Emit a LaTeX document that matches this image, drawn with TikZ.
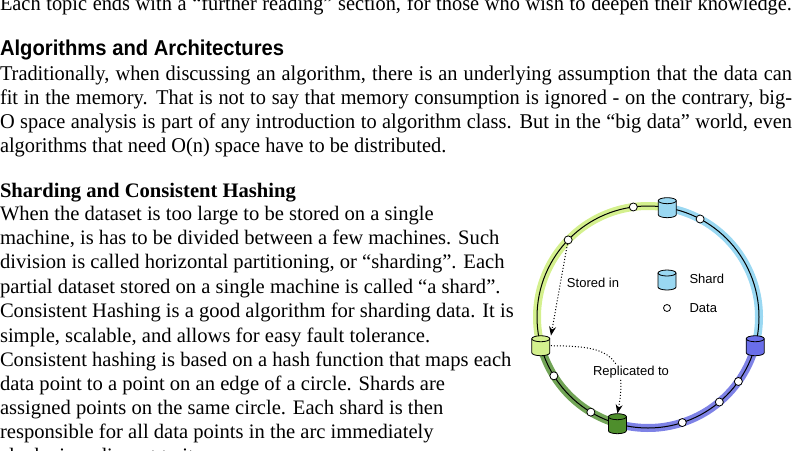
\documentclass[tikz,border=0pt]{standalone}
\usepackage{fontspec}
\setmainfont{Liberation Serif}
\newfontfamily\condf[FakeStretch=0.97]{Liberation Serif}
\newfontfamily\hsans[FakeStretch=0.94]{Liberation Sans}
\newfontfamily\lsans{Liberation Sans}
\usetikzlibrary{shapes.geometric,arrows.meta,calc}
\definecolor{lblue}{HTML}{9AD8F2}
\definecolor{purp}{HTML}{7E82E6}
\definecolor{purpS}{HTML}{6A6EEA}
\definecolor{dgreen}{HTML}{4E8E2C}
\definecolor{lgreen}{HTML}{D4F08E}
\tikzset{
  txt/.style={anchor=base west,inner sep=0pt,outer sep=0pt},
  shardbox/.style={rectangle,minimum width=20pt,minimum height=20pt,inner sep=0pt},
  datapt/.style={circle,draw=black,fill=white,line width=0.8pt,minimum size=8pt,inner sep=0pt},
  band/.style={line width=8pt},
  lab/.style={font=\lsans\fontsize{13}{14}\selectfont,fill=white,inner sep=1pt},
  dotarrow/.style={dotted,line width=1pt,-{Stealth[length=9pt,width=7pt]}}
}
\newcommand\jl[3]{\node[txt] (l#1) at (0,-#1) {\makebox[#2pt][s]{#3}};}
\newcommand\nl[2]{\node[txt] (l#1) at (0,-#1) {#2};}
% cylinder icon: name, position, colour
\newcommand\shardat[3]{%
  \node[shardbox] (#1) at (#2) {};
  \fill[#3] ($(#1.center)+(-9,7)$) -- ($(#1.center)+(-9,-7)$) arc[start angle=180,end angle=360,x radius=9,y radius=3] -- ($(#1.center)+(9,7)$) -- cycle;
  \draw[line width=0.8pt] ($(#1.center)+(-9,7)$) -- ($(#1.center)+(-9,-7)$) arc[start angle=180,end angle=360,x radius=9,y radius=3] -- ($(#1.center)+(9,7)$);
  \draw[line width=0.8pt,fill=#3] ($(#1.center)+(0,7)$) ellipse[x radius=9,y radius=3];
}
\begin{document}
\begin{tikzpicture}[x=1pt,y=1pt]
\useasboundingbox (0,0) rectangle (800,-450);
% top part
\begin{scope}[font=\condf\fontsize{21}{24}\selectfont]
\jl{10}{792}{Each topic ends with a “further reading” section, for those who wish to deepen their knowledge.}
\node[txt,font=\hsans\bfseries\fontsize{21.5}{24}\selectfont] (h1) at (0,-55) {Algorithms and Architectures};
\jl{80}{792}{Traditionally, when discussing an algorithm, there is an underlying assumption that the data can}
\jl{104}{792}{fit in the memory. That is not to say that memory consumption is ignored - on the contrary, big-}
\jl{128}{792}{O space analysis is part of any introduction to algorithm class. But in the “big data” world, even}
\nl{152}{algorithms that need O(n) space have to be distributed.}
\end{scope}
% bottom part
\begin{scope}[font=\fontsize{20.6}{24}\selectfont]
\node[txt,font=\bfseries\fontsize{20.6}{24}\selectfont] (h2) at (0,-197) {Sharding and Consistent Hashing};
\nl{220}{When the dataset is too large to be stored on a single}
\nl{244}{machine, is has to be divided between a few machines. Such}
\nl{268}{division is called horizontal partitioning, or “sharding”. Each}
\nl{293}{partial dataset stored on a single machine is called “a shard”.}
\nl{317}{Consistent Hashing is a good algorithm for sharding data. It is}
\nl{342}{simple, scalable, and allows for easy fault tolerance.}
\nl{366}{Consistent hashing is based on a hash function that maps each}
\nl{390}{data point to a point on an edge of a circle. Shards are}
\nl{414}{assigned points on the same circle. Each shard is then}
\nl{438}{responsible for all data points in the arc immediately}
\nl{462}{clockwise adjacent to it.}
\end{scope}
% diagram
\coordinate (C) at (648,-317);
\def\R{111}
\draw[band,lblue] ($(C)+(80:\R)$) arc[start angle=80,end angle=-15,radius=\R];
\draw[band,purp] ($(C)+(-15:\R)$) arc[start angle=-15,end angle=-106,radius=\R];
\draw[band,dgreen!80] ($(C)+(-106:\R)$) arc[start angle=-106,end angle=-165,radius=\R];
\draw[band,lgreen] ($(C)+(195:\R)$) arc[start angle=195,end angle=80,radius=\R];
\draw[line width=1pt] (C) circle[radius=\R];
\foreach \a/\n in {97.6/d1,62/d2,136/d3,-35.5/d4,-50/d5,-72/d6,239/d7,212/d8}
  \node[datapt] (\n) at ($(C)+(\a:\R)$) {};
\shardat{s1}{$(C)+(80:\R)$}{lblue}
\shardat{s2}{$(C)+(-15:\R)$}{purpS}
\shardat{s3}{$(C)+(-106:\R)$}{dgreen}
\shardat{s4}{$(C)+(195:\R)$}{lgreen}
% legend
\shardat{ls}{667,-280}{lblue}
\node[anchor=west,font=\lsans\fontsize{13}{14}\selectfont] (lst) at (686,-279) {Shard};
\node[datapt,minimum size=7pt] (ld) at (667,-308) {};
\node[anchor=west,font=\lsans\fontsize{13}{14}\selectfont] (ldt) at (686,-308) {Data};
% arrows
\draw[dotarrow] (d3) -- (s4.north east);
\node[lab] (stored) at (593,-283) {Stored in};
\draw[dotarrow] (s4.east) .. controls (600,-346) and (630,-350) .. (s3.north);
\node[lab] (repl) at (631,-372) {Replicated to};
\end{tikzpicture}
\end{document}
